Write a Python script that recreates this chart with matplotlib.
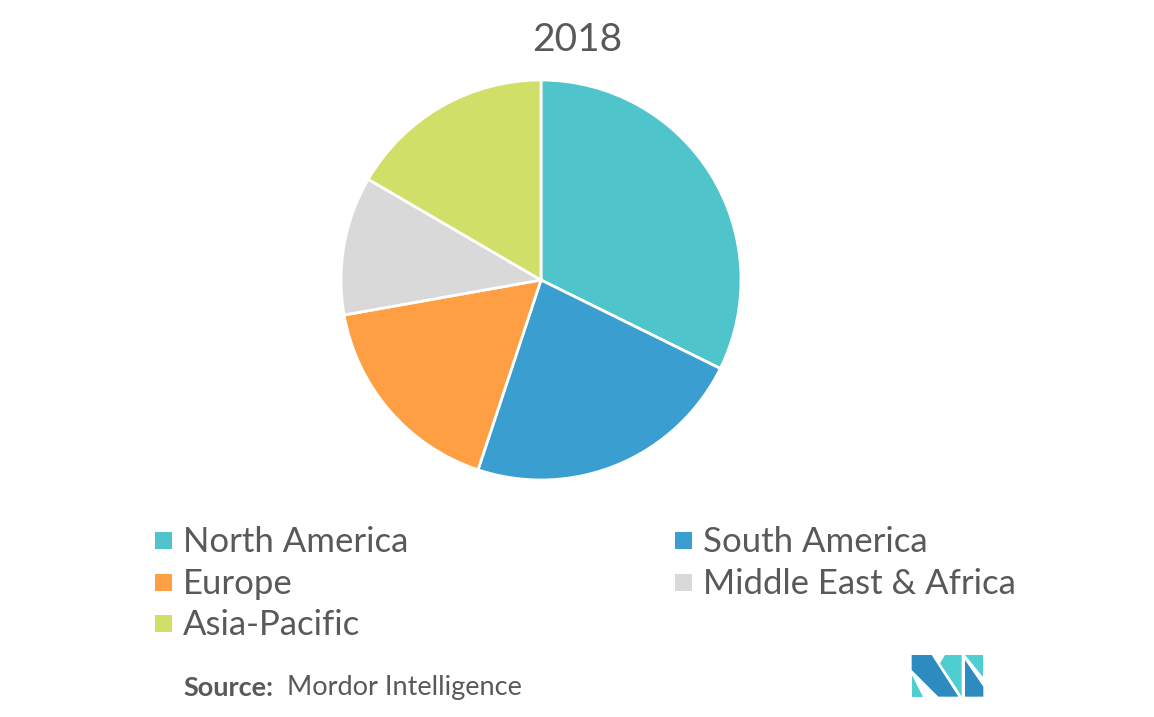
import matplotlib
matplotlib.use("Agg")
import matplotlib.pyplot as plt
from matplotlib.patches import Rectangle, Polygon

title = "2018"
regions = ["North America", "South America", "Europe", "Middle East & Africa", "Asia-Pacific"]
shares = [32.3, 22.8, 17.1, 11.2, 16.6]
colors = ["#4FC4CA", "#3B9ED0", "#FF9F43", "#D9D9D9", "#D0DF67"]

W, H = 1154, 717
fig = plt.figure(figsize=(W / 100, H / 100), dpi=100)
fig.patch.set_facecolor("white")

def fx(px):
    return px / W

def fy(py):
    return 1 - py / H

# pie
cx, cy, r = 541, 280, 200
ax = fig.add_axes([fx(cx - r), fy(cy + r), 2 * r / W, 2 * r / H])
ax.pie(shares, colors=colors, startangle=90, counterclock=False,
       wedgeprops=dict(edgecolor="white", linewidth=2))
ax.set_xlim(-1.0, 1.0)
ax.set_ylim(-1.0, 1.0)
ax.set_aspect("equal")
ax.axis("off")

fig.text(0.5, fy(40), title, ha="center", va="center", fontsize=28,
         color="#595959", family="Lato")

# legend (row-wise, two columns)
col_x = [155, 675]
row_y = [542, 584, 625]
sq = 17
for i, (lab, col) in enumerate(zip(regions, colors)):
    rr, cc = divmod(i, 2)
    x, y = col_x[cc], row_y[rr]
    fig.patches.append(Rectangle((fx(x), fy(y - 2 + sq / 2)), sq / W, sq / H,
                                 transform=fig.transFigure, facecolor=col,
                                 edgecolor="none"))
    fig.text(fx(x + 28), fy(y), lab, ha="left", va="center", fontsize=25,
             color="#595959", family="Lato")

# source
fig.text(fx(183), fy(688), "Source:", ha="left", va="center", fontsize=19.5,
         color="#595959", family="Lato", weight="bold")
fig.text(fx(287), fy(688), "Mordor Intelligence", ha="left", va="center",
         fontsize=19.5, color="#595959", family="Lato")

# logo
def poly(pts, col):
    p = [(fx(890 + zx / 3), fy(640 + zy / 3)) for zx, zy in pts]
    fig.patches.append(Polygon(p, closed=True, transform=fig.transFigure,
                               facecolor=col, edgecolor="none"))

dark = "#2E8BC0"
light = "#4FCED2"
poly([(65, 45), (125, 45), (205, 170), (145, 170), (65, 90)], dark)
poly([(65, 105), (65, 170), (100, 170)], light)
poly([(165, 45), (215, 45), (215, 170), (200, 145), (150, 70)], light)
poly([(225, 45), (280, 45), (280, 110)], light)
poly([(225, 60), (280, 140), (280, 170), (225, 170)], dark)

fig.savefig("out.png", dpi=100, facecolor="white")
